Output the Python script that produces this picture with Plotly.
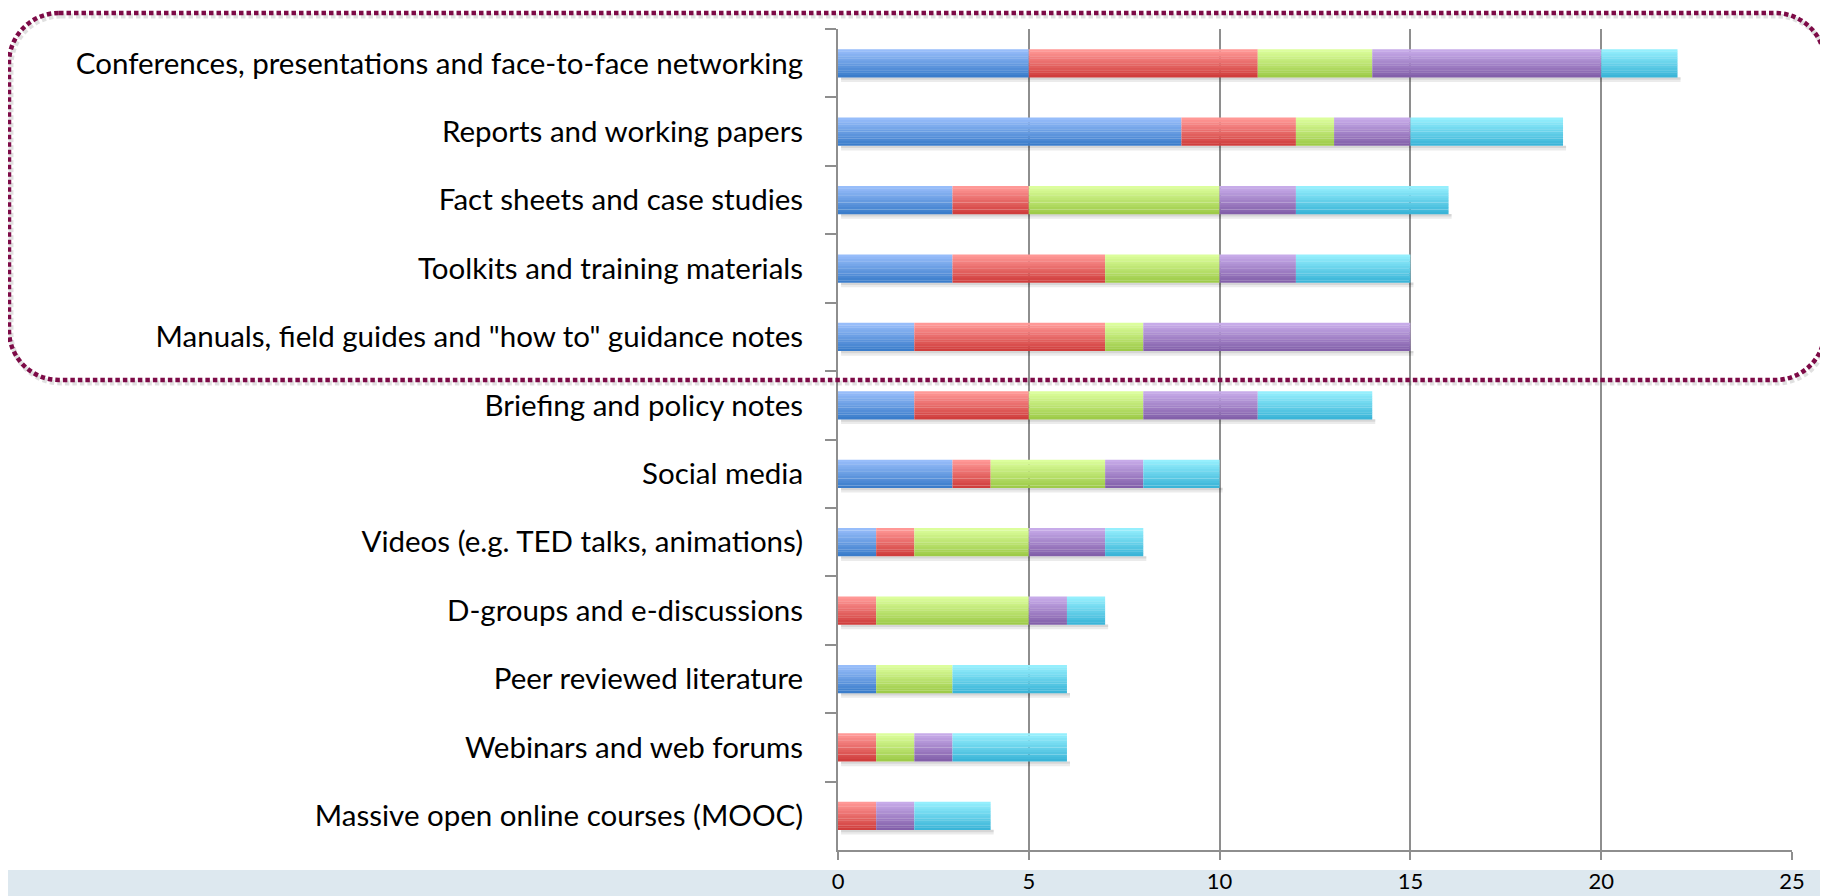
import plotly.graph_objects as go
import numpy as np

categories = [
    "Conferences, presentations and face-to-face networking",
    "Reports and working papers",
    "Fact sheets and case studies",
    "Toolkits and training materials",
    "Manuals, field guides and \"how to\" guidance notes",
    "Briefing and policy notes",
    "Social media",
    "Videos (e.g. TED talks, animations)",
    "D-groups and e-discussions",
    "Peer reviewed literature",
    "Webinars and web forums",
    "Massive open online courses (MOOC)",
]

blue_vals   = [5, 9, 3, 3, 2, 2, 3, 1, 0, 1, 0, 0]
red_vals    = [6, 3, 2, 4, 5, 3, 1, 1, 1, 0, 1, 1]
green_vals  = [3, 1, 5, 3, 1, 3, 3, 3, 4, 2, 1, 0]
purple_vals = [6, 2, 2, 2, 7, 3, 1, 2, 1, 0, 1, 1]
cyan_vals   = [2, 4, 4, 3, 0, 3, 2, 1, 1, 3, 3, 2]

x_ticks = [0, 5, 10, 15, 20, 25]

series = [
    ("Blue", blue_vals, "#97bdfa", "#3b7dcb"),
    ("Red", red_vals, "#ff9896", "#d03e3d"),
    ("Green", green_vals, "#dcfe9c", "#9ecb49"),
    ("Purple", purple_vals, "#c7abe9", "#8360aa"),
    ("Cyan", cyan_vals, "#95effd", "#3bb5d8"),
]

def hex2rgb(h):
    h = h.lstrip("#")
    return [int(h[i:i + 2], 16) for i in (0, 2, 4)]

def mix(c1, c2, t):
    a, b = hex2rgb(c1), hex2rgb(c2)
    return "rgb(%d,%d,%d)" % tuple(round(a[i] + (b[i] - a[i]) * t) for i in range(3))

fig = go.Figure()

bw = 0.41
N = 12
base = np.zeros(len(categories))
totals = np.sum([np.array(s[1]) for s in series], axis=0)

# soft shadow beneath bars
for k, op in enumerate([0.16, 0.08]):
    fig.add_trace(go.Bar(
        y=categories, x=totals, base=[0.08] * len(categories), orientation="h",
        width=0.035, offset=bw / 2 + k * 0.035,
        marker=dict(color="rgba(0,0,0,%.2f)" % op, line=dict(width=0)),
        showlegend=False, hoverinfo="skip",
    ))

for name, vals, ctop, cbot in series:
    v = np.array(vals, dtype=float)
    for k in range(N):
        t = k / (N - 1)
        fig.add_trace(go.Bar(
            y=categories, x=v, base=base.copy(), orientation="h",
            width=bw / N * 1.08, offset=-bw / 2 + k * bw / N,
            marker=dict(color=mix(ctop, cbot, t), line=dict(width=0)),
            name=name, showlegend=False, hoverinfo="skip",
        ))
    base = base + v

# page geometry (the page body has an 8px margin)
OFF = 8
PW, PH = 1828, 896
FW, FH = PW - OFF, PH - OFF
L, R, T, B = 838, 1792, 29, 850
pw, ph = R - L, B - T

def px(x):
    return (x - L) / pw

def py(y):
    return (B - y) / ph

# rounded dotted box in page pixel coords
bx0, by0, bx1, by1, rr = 9, 13, 1825, 380, 50
k = 0.5523 * rr
pts = [
    ("M", [(bx0 + rr, by0)]),
    ("L", [(bx1 - rr, by0)]),
    ("C", [(bx1 - rr + k, by0), (bx1, by0 + rr - k), (bx1, by0 + rr)]),
    ("L", [(bx1, by1 - rr)]),
    ("C", [(bx1, by1 - rr + k), (bx1 - rr + k, by1), (bx1 - rr, by1)]),
    ("L", [(bx0 + rr, by1)]),
    ("C", [(bx0 + rr - k, by1), (bx0, by1 - rr + k), (bx0, by1 - rr)]),
    ("L", [(bx0, by0 + rr)]),
    ("C", [(bx0, by0 + rr - k), (bx0 + rr - k, by0), (bx0 + rr, by0)]),
]

def mkpath(dx=0, dy=0):
    return " ".join(c + " " + " ".join("%.5f,%.5f" % (px(a + dx), py(b + dy)) for a, b in p)
                    for c, p in pts) + " Z"

shapes = [
    dict(type="rect", xref="paper", yref="paper",
         x0=px(0), x1=px(PW + 20), y0=py(870), y1=py(PH + 20),
         fillcolor="#dde8ef", line=dict(width=0), layer="below"),
    dict(type="path", xref="paper", yref="paper", path=mkpath(2, 3),
         line=dict(color="rgba(0,0,0,0.12)", width=5, dash="4.5px,3px"), layer="above"),
    dict(type="path", xref="paper", yref="paper", path=mkpath(),
         line=dict(color="#7d0b47", width=4.5, dash="4.5px,3px"), layer="above"),
]

font_fam = "Lato, Open Sans, sans-serif"

fig.update_layout(
    width=FW, height=FH,
    margin=dict(l=L - OFF, r=PW - R, t=T - OFF, b=PH - B, pad=0, autoexpand=False),
    barmode="overlay",
    paper_bgcolor="white", plot_bgcolor="white",
    font=dict(family=font_fam, color="black"),
    shapes=shapes,
    xaxis=dict(
        range=[0, 25], tickvals=x_ticks, ticktext=[str(v) for v in x_ticks],
        showgrid=True, gridcolor="#8e8e8e", gridwidth=1.5,
        showline=True, linecolor="#8e8e8e", linewidth=2,
        ticks="outside", ticklen=8, tickcolor="#8e8e8e", tickwidth=1.5,
        tickfont=dict(size=22, family=font_fam, color="black"),
        ticklabelstandoff=3, zeroline=False, fixedrange=True, automargin=False,
    ),
    yaxis=dict(
        categoryorder="array", categoryarray=categories, autorange="reversed",
        showline=True, linecolor="#8e8e8e", linewidth=2,
        ticks="outside", ticklen=11, tickcolor="#8e8e8e", tickwidth=2,
        tickson="boundaries", showgrid=False,
        tickfont=dict(size=29.5, family=font_fam, color="black"),
        ticklabelstandoff=27, fixedrange=True, automargin=False,
    ),
)

fig.write_html("out.html")
